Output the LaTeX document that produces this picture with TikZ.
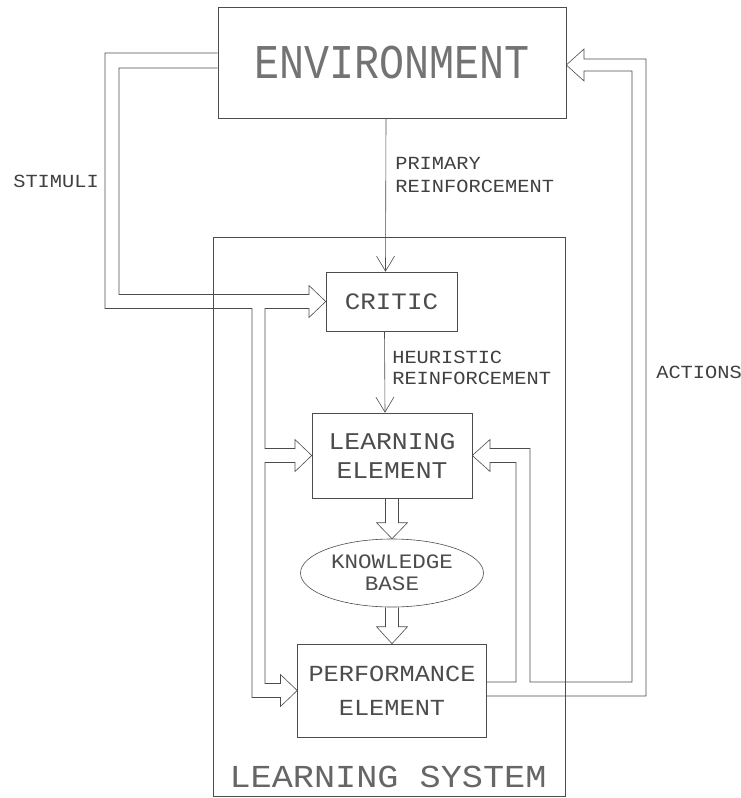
\documentclass[tikz,border=0pt]{standalone}
\usepackage{fontspec}
\usetikzlibrary{arrows.meta,calc,shapes.geometric}
\newfontfamily\plotfont{Liberation Mono}[FakeStretch=1.1]
\newfontfamily\envfont{Liberation Mono}[FakeStretch=0.86]

\begin{document}
\begin{tikzpicture}[
        x=1pt, y=-1pt,
        color=black!70, line width=0.6pt,
        box/.style={rectangle,draw,inner sep=0pt,align=center,text=black!70},
        lbl/.style={inner sep=0pt,align=left,text=black!75,font=\plotfont\fontsize{18.5}{22}\selectfont},
        arrow/.style={-{Straight Barb[length=15pt,width=18pt]}},
        rail/.style={draw,line join=miter}
    ]
        \useasboundingbox (0,0) rectangle (741,798);

        \node[box, minimum width=352pt, minimum height=559pt] (ls) at (389,516.5) {};
        \node[inner sep=0pt, text=black!60, font=\plotfont\fontsize{32}{34}\selectfont] (lstitle) at (388,777) {LEARNING SYSTEM};

        \node[box, text=black!55, minimum width=348pt, minimum height=111pt, font=\envfont\fontsize{48.5}{50}\selectfont] (env) at (392,62.5) {ENVIRONMENT};
        \node[box, minimum width=131pt, minimum height=59pt, font=\plotfont\fontsize{23.5}{26}\selectfont] (critic) at (391.5,301.5) {CRITIC};
        \node[box, minimum width=160pt, minimum height=85pt, font=\plotfont\fontsize{24}{29}\selectfont] (le) at (392,455.5) {LEARNING\\ELEMENT};
        \node[ellipse, draw, inner sep=0pt, align=center, text=black!70, minimum width=183pt, minimum height=68pt, font=\plotfont\fontsize{20.5}{22}\selectfont] (kb) at (392,573) {KNOWLEDGE\\BASE};
        \node[box, minimum width=189pt, minimum height=93pt, font=\plotfont\fontsize{23}{34}\selectfont] (pe) at (392,690.5) {PERFORMANCE\\ELEMENT};

        \node[lbl, anchor=west] (stimuli) at (13,181) {STIMULI};
        \node[lbl, anchor=west, font=\plotfont\fontsize{18.5}{23}\selectfont] (primary) at (395,174.5) {PRIMARY\\REINFORCEMENT};
        \node[lbl, anchor=west, font=\plotfont\fontsize{18.5}{21}\selectfont] (heuristic) at (392,367.5) {HEURISTIC\\REINFORCEMENT};
        \node[lbl, anchor=west] (actions) at (656,372) {ACTIONS};

        \draw[arrow] ([xshift=-6pt]env.south) -- ([xshift=-6pt]critic.north);
        \draw[arrow] ([xshift=-7pt]critic.south) -- ([xshift=-7pt]le.north);

        % hollow arrows down the middle
        \draw[rail] ($(le.south)+(-6.5,0)$) |- ($(kb.north)+(-15.5,-16)$) -- (kb.north)
            -- ($(kb.north)+(15.5,-16)$) -| ($(le.south)+(6.5,0)$);
        \draw[rail] ($(kb.south)+(-6.5,0)$) |- ($(pe.north)+(-15.5,-17)$) -- (pe.north)
            -- ($(pe.north)+(15.5,-17)$) -| ($(kb.south)+(6.5,0)$);

        % stimuli: environment to critic, learning and performance element
        \draw[rail] ($(env.west)+(0,-9.5)$) -- (105,53) -- (105,308.5) -- (252,308.5)
            -- (252,697.5) -- (280.5,697.5) -- (280.5,706.5) -- (pe.west) -- (280.5,674.5) -- (280.5,683.5)
            -- (265,683.5) -- (265,462.5) -- (295,462.5) -- (295,471.5) -- (le.west) -- (295,439.5) -- (295,448.5)
            -- (265,448.5) -- (265,308.5) -- (309,308.5) -- (309,317.5) -- (critic.west) -- (309,285.5) -- (309,294.5)
            -- (119,294.5) -- (119,68) -- ($(env.west)+(0,5.5)$);

        % actions: performance element back to learning element and environment
        \draw[rail] ($(pe.east)+(0,-8.5)$) -- (516,682) -- (516,462.5) -- (490,462.5) -- (490,471.5)
            -- (le.east) -- (490,439.5) -- (490,448.5) -- (530,448.5) -- (530,682) -- (632,682)
            -- (632,71) -- (584,71) -- (584,81) -- ($(env.east)+(0,2.5)$) -- (584,49) -- (584,59)
            -- (646,59) -- (646,696) -- ($(pe.east)+(0,5.5)$);
    \end{tikzpicture}
\end{document}
